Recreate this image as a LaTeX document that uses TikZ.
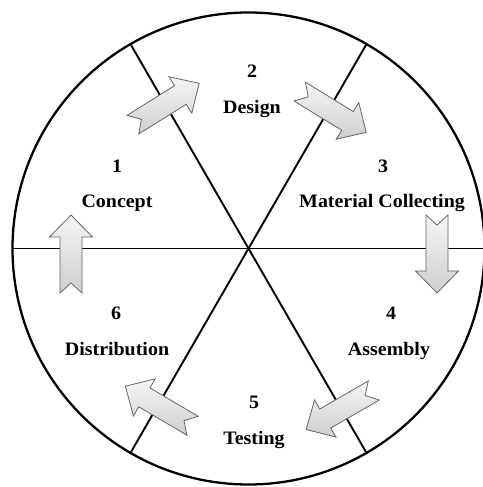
\documentclass[tikz,border=0pt]{standalone}
\usepackage{fontspec}
\setmainfont{Liberation Serif}[FakeStretch=1.05]
\begin{document}
\begin{tikzpicture}[x=1pt,y=1pt,
  lbl/.style={anchor=base,inner sep=0pt,font=\fontsize{19}{22}\selectfont\bfseries},
  blockarrow/.style={draw=black!60,line width=0.8pt,line join=miter,top color=gray!8,bottom color=gray!38},
  divline/.style={line width=1.9pt},
  rim/.style={line width=2.3pt}]
\useasboundingbox[fill=white] (0,0) rectangle (482,487);
\coordinate (C) at (248.5,238.5);
% dividing lines
\draw[divline] (C) ++(0:236) -- ++(180:472);
\draw[divline] (C) ++(60:236) -- ++(240:472);
\draw[divline] (C) ++(120:236) -- ++(300:472);
\draw[rim] (C) circle (236);
% block arrows
\newcommand{\blkarrow}[3]{%
  \draw[blockarrow,shift={(#1,#2)},rotate=#3]
    (-39pt,11pt) -- (17pt,11pt) -- (17pt,21.5pt) -- (39pt,0pt) -- (17pt,-21.5pt)
    -- (17pt,-11pt) -- (-39pt,-11pt) -- (-29pt,0pt) -- cycle;}
\blkarrow{166}{383}{32}
\blkarrow{333}{375}{-31.5}
\blkarrow{437}{233}{-90}
\blkarrow{340}{77}{210}
\blkarrow{159}{81}{149.5}
\blkarrow{71}{233}{90}
% labels
\node[lbl] (n2) at (252,409) {2};
\node[lbl] (t2) at (252,373) {Design};
\node[lbl] (n1) at (117,314) {1};
\node[lbl] (t1) at (117,279) {Concept};
\node[lbl] (n3) at (383,314) {3};
\node[lbl] (t3) at (382,279) {Material Collecting};
\node[lbl] (n4) at (391,167) {4};
\node[lbl] (t4) at (389,131) {Assembly};
\node[lbl] (n6) at (116,167) {6};
\node[lbl] (t6) at (117,131) {Distribution};
\node[lbl] (n5) at (254,78) {5};
\node[lbl] (t5) at (254,42) {Testing};
\end{tikzpicture}
\end{document}
